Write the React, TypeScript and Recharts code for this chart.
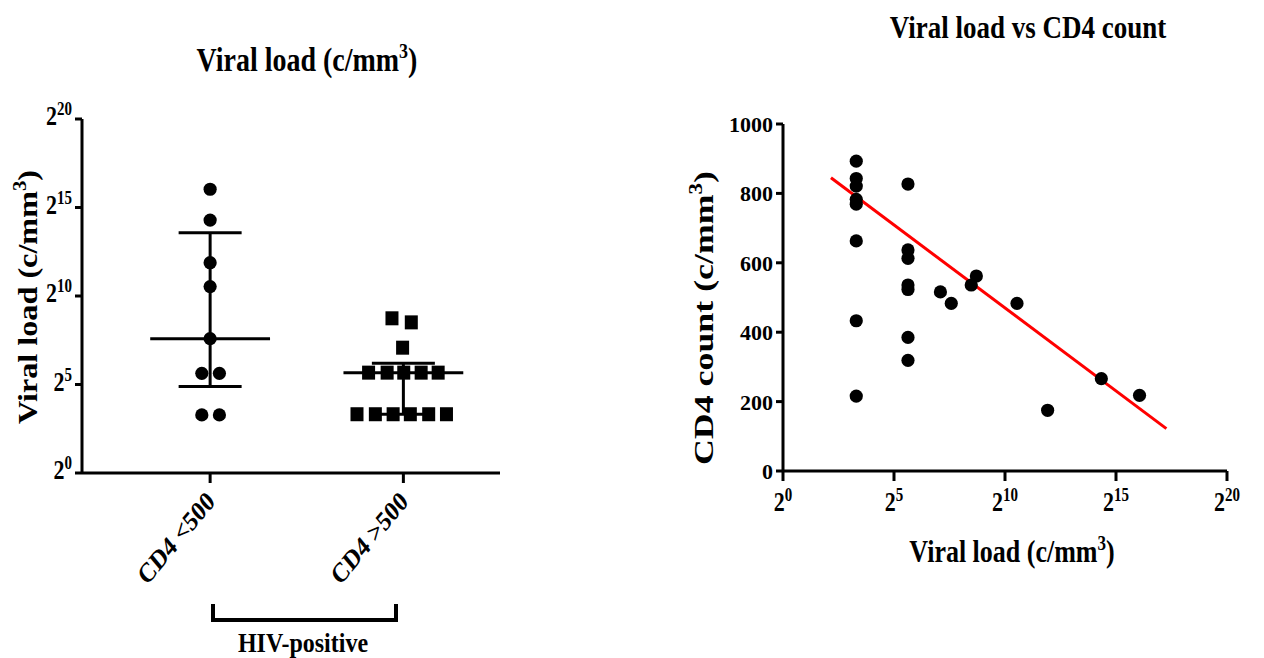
import React from 'react';
import { ScatterChart, Scatter, XAxis, YAxis, ReferenceLine } from 'recharts';

const FONT = '"Liberation Serif", "Times New Roman", Times, serif';

// ---------- Left chart data (log2 viral load) ----------
const groupCategories = ['CD4 <500', 'CD4 >500'];
const group1Log2 = [16.03, 14.29, 11.88, 10.53, 7.59, 5.63, 5.63, 3.28, 3.28];
const group1Jitter = [0, 0, 0, 0, 0, -0.043, 0.048, -0.043, 0.048];
const group2Log2 = [8.74, 8.51, 7.08, 5.67, 5.67, 5.67, 5.67, 5.67, 3.32, 3.32, 3.32, 3.32, 3.32, 3.32];
const group2Jitter = [-0.059, 0.041, -0.004, -0.18, -0.084, 0.002, 0.092, 0.18, -0.24, -0.145, -0.053, 0.036, 0.131, 0.223];
const groupMedian = [7.59, 5.67];
const groupUpper = [13.58, 6.2];
const groupLower = [4.88, 3.32];
const leftYTicks = [0, 5, 10, 15, 20];

// ---------- Right chart data ----------
const scatterLog2 = [3.3, 3.3, 3.3, 3.3, 3.3, 3.3, 3.3, 3.3, 5.63, 5.63, 5.63, 5.63, 5.63, 5.63, 5.63, 7.09, 7.58, 8.48, 8.71, 10.54, 11.92, 14.34, 16.06];
const scatterCD4 = [893, 843, 821, 783, 769, 663, 433, 216, 827, 637, 613, 536, 523, 385, 319, 516, 483, 536, 562, 483, 175, 266, 218];
const fitLog2 = [2.16, 17.27];
const fitCD4 = [845, 122];
const rightXTicks = [0, 5, 10, 15, 20];
const rightYTicks = [0, 200, 400, 600, 800, 1000];

// style constants
const MEDIAN_HALF = 0.31;
const CAP_HALF = 0.163;
const AXIS = { stroke: '#000', strokeWidth: 3 };

const group1Data = group1Log2.map((v, i) => ({ x: 1 + group1Jitter[i], y: v }));
const group2Data = group2Log2.map((v, i) => ({ x: 2 + group2Jitter[i], y: v }));
const rightData = scatterLog2.map((v, i) => ({ x: v, y: scatterCD4[i] }));

const Dot = (p: any) => <circle cx={p.cx} cy={p.cy} r={6.6} fill="#000" />;
const Square = (p: any) => <rect x={p.cx - 6.5} y={p.cy - 7} width={13} height={14} fill="#000" />;

const PowTick = (props: any) => {
  const { x, y, payload, mode } = props;
  if (mode === 'left') {
    return (
      <g transform={`translate(${x},${y + 6}) scale(1,1.2)`}>
        <text textAnchor="end" fontFamily={FONT} fontWeight="bold" fontSize={22} fill="#000">
          <tspan>2</tspan>
          <tspan fontSize={15} dy={-8}>{payload.value}</tspan>
        </text>
      </g>
    );
  }
  return (
    <g transform={`translate(${x},${y + 28}) scale(1,1.2)`}>
      <text textAnchor="middle" fontFamily={FONT} fontWeight="bold" fontSize={22} fill="#000">
        <tspan>2</tspan>
        <tspan fontSize={15} dy={-8}>{payload.value}</tspan>
      </text>
    </g>
  );
};

const NumTick = (props: any) => {
  const { x, y, payload } = props;
  return (
    <text x={x} y={y + 8} textAnchor="end" fontFamily={FONT} fontWeight="bold" fontSize={22} fill="#000">
      {payload.value}
    </text>
  );
};

const CatTick = (props: any) => {
  const { x, y, payload } = props;
  const label = groupCategories[Math.round(payload.value) - 1];
  return (
    <g transform={`translate(${x + 6},${y + 18}) scale(1,1.2) rotate(-45)`}>
      <text textAnchor="end" fontFamily={FONT} fontWeight="bold" fontSize={23} fill="#000">
        {label}
      </text>
    </g>
  );
};

const txt = { fontFamily: FONT, fontWeight: 'bold' as const, fill: '#000' };

export default function App() {
  return (
    <div style={{ position: 'absolute', left: 0, top: 0, width: 1264, height: 658, background: '#fff' }}>
      <div style={{ position: 'absolute', left: 0, top: 0 }}>
        <ScatterChart width={520} height={658} margin={{ top: 119, right: 20, left: 0, bottom: 0 }}>
          <XAxis
            type="number"
            dataKey="x"
            domain={[0.337, 2.5]}
            ticks={[1, 2]}
            interval={0}
            axisLine={AXIS}
            tickLine={AXIS}
            tickSize={10}
            height={185}
            tick={<CatTick />}
          />
          <YAxis
            type="number"
            dataKey="y"
            domain={[0, 20]}
            ticks={leftYTicks}
            interval={0}
            axisLine={AXIS}
            tickLine={AXIS}
            tickSize={7}
            tickMargin={3}
            width={82}
            tick={<PowTick mode="left" />}
          />
          {groupMedian.map((m, i) => (
            <ReferenceLine key={`m${i}`} segment={[{ x: i + 1 - MEDIAN_HALF, y: m }, { x: i + 1 + MEDIAN_HALF, y: m }]} stroke="#000" strokeWidth={3} ifOverflow="visible" />
          ))}
          {groupUpper.map((u, i) => (
            <ReferenceLine key={`u${i}`} segment={[{ x: i + 1 - CAP_HALF, y: u }, { x: i + 1 + CAP_HALF, y: u }]} stroke="#000" strokeWidth={3} ifOverflow="visible" />
          ))}
          {groupLower.map((l, i) => (
            <ReferenceLine key={`l${i}`} segment={[{ x: i + 1 - CAP_HALF, y: l }, { x: i + 1 + CAP_HALF, y: l }]} stroke="#000" strokeWidth={3} ifOverflow="visible" />
          ))}
          {groupLower.map((l, i) => (
            <ReferenceLine key={`v${i}`} segment={[{ x: i + 1, y: l }, { x: i + 1, y: groupUpper[i] }]} stroke="#000" strokeWidth={3} ifOverflow="visible" />
          ))}
          <Scatter data={group1Data} shape={Dot} isAnimationActive={false} />
          <Scatter data={group2Data} shape={Square} isAnimationActive={false} />
        </ScatterChart>
      </div>

      <div style={{ position: 'absolute', left: 700, top: 0 }}>
        <ScatterChart width={564} height={658} margin={{ top: 124, right: 37, left: 0, bottom: 0 }}>
          <XAxis
            type="number"
            dataKey="x"
            domain={[0, 20]}
            ticks={rightXTicks}
            interval={0}
            axisLine={AXIS}
            tickLine={AXIS}
            tickSize={10}
            height={187}
            tick={<PowTick mode="bottom" />}
          />
          <YAxis
            type="number"
            dataKey="y"
            domain={[0, 1000]}
            ticks={rightYTicks}
            interval={0}
            axisLine={AXIS}
            tickLine={AXIS}
            tickSize={7}
            tickMargin={3}
            width={83}
            tick={<NumTick />}
          />
          <Scatter data={rightData} shape={Dot} isAnimationActive={false} />
          <ReferenceLine segment={[{ x: fitLog2[0], y: fitCD4[0] }, { x: fitLog2[1], y: fitCD4[1] }]} stroke="#ff0000" strokeWidth={3} ifOverflow="visible" />
        </ScatterChart>
      </div>

      <svg width={1264} height={658} style={{ position: 'absolute', left: 0, top: 0, pointerEvents: 'none' }}>
        {/* Left title */}
        <g transform="translate(307,71) scale(1,1.2)">
          <text textAnchor="middle" fontSize={28} {...txt}>
            <tspan>Viral load (c/mm</tspan>
            <tspan fontSize={18} dy={-11}>3</tspan>
            <tspan dy={11}>)</tspan>
          </text>
        </g>
        {/* Right title */}
        <g transform="translate(1028,38) scale(1,1.2)">
          <text textAnchor="middle" fontSize={27} {...txt}>Viral load vs CD4 count</text>
        </g>
        {/* Left y label */}
        <g transform="translate(37,297) rotate(-90) scale(1.15,1)">
          <text textAnchor="middle" fontSize={28} {...txt}>
            <tspan>Viral load (c/mm</tspan>
            <tspan fontSize={18} dy={-11}>3</tspan>
            <tspan dy={11}>)</tspan>
          </text>
        </g>
        {/* Right y label */}
        <g transform="translate(713,318) rotate(-90) scale(1.28,1)">
          <text textAnchor="middle" fontSize={28} {...txt}>
            <tspan>CD4 count (c/mm</tspan>
            <tspan fontSize={18} dy={-11}>3</tspan>
            <tspan dy={11}>)</tspan>
          </text>
        </g>
        {/* Right x label */}
        <g transform="translate(1012,562) scale(1,1.2)">
          <text textAnchor="middle" fontSize={26} {...txt}>
            <tspan>Viral load (c/mm</tspan>
            <tspan fontSize={17} dy={-10}>3</tspan>
            <tspan dy={10}>)</tspan>
          </text>
        </g>
        {/* Bracket */}
        <path d="M213,604 V620 H396 V604" fill="none" stroke="#000" strokeWidth={4} />
        <g transform="translate(303,652) scale(1,1.1)">
          <text textAnchor="middle" fontSize={24} {...txt}>HIV-positive</text>
        </g>
      </svg>
    </div>
  );
}
